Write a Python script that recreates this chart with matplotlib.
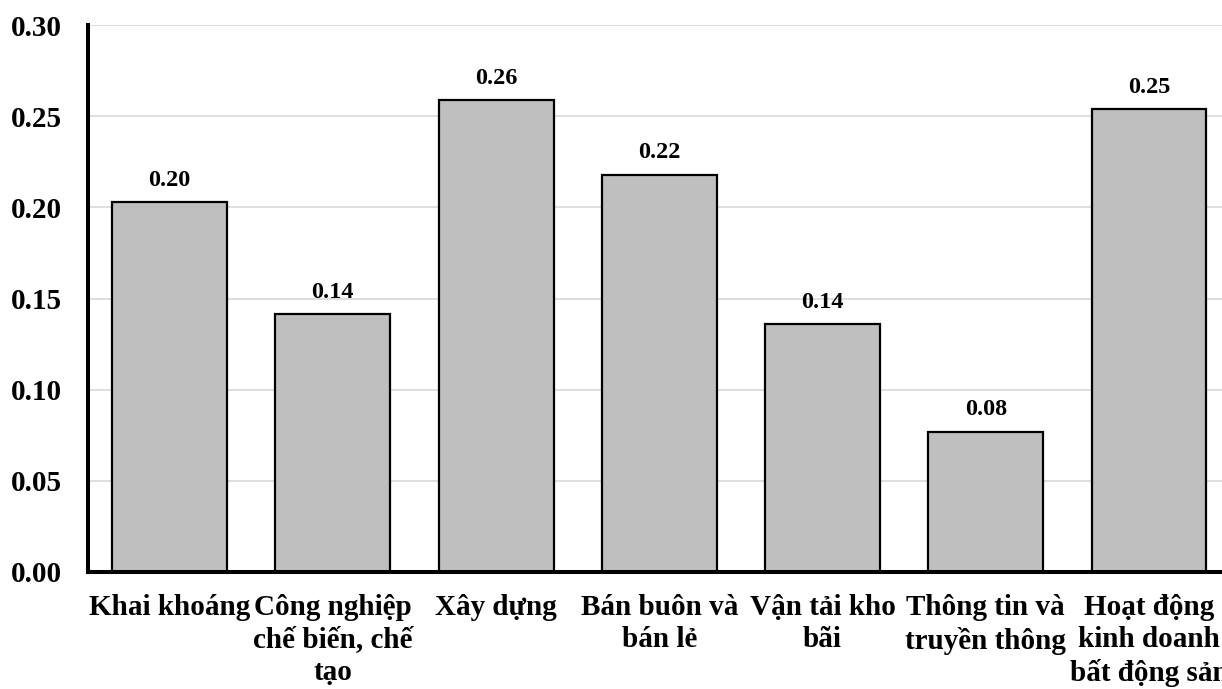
import matplotlib
matplotlib.use("Agg")
import matplotlib.pyplot as plt
from matplotlib.ticker import FormatStrFormatter

categories = ["Khai khoáng", "Công nghiệp\nchế biến, chế\ntạo", "Xây dựng",
              "Bán buôn và\nbán lẻ", "Vận tải kho\nbãi", "Thông tin và\ntruyền thông",
              "Hoạt động\nkinh doanh\nbất động sản"]
values = [0.203, 0.1415, 0.259, 0.218, 0.136, 0.077, 0.254]
yticks = [0.00, 0.05, 0.10, 0.15, 0.20, 0.25, 0.30]

plt.rcParams['font.family'] = ['Liberation Serif', 'DejaVu Serif']
plt.rcParams['font.weight'] = 'bold'

fig = plt.figure(figsize=(12.22, 6.89), dpi=100)
ax = fig.add_axes([88/1222, 117/689, (1230.6-88)/1222, 547/689])

x = list(range(len(categories)))
bars = ax.bar(x, values, width=0.704, color='#BFBFBF', edgecolor='black', linewidth=1.6, zorder=3)
for xi, v in zip(x, values):
    ax.annotate(f"{v:.2f}", (xi, v), xytext=(0, 8), textcoords='offset points',
                ha='center', va='bottom', fontsize=17.5, fontweight='bold')

ax.set_xlim(-0.5, 6.5)
ax.set_ylim(0, 0.30)
ax.set_yticks(yticks)
ax.yaxis.set_major_formatter(FormatStrFormatter('%.2f'))
ax.set_xticks(x)
ax.set_xticklabels(categories, fontsize=21, fontweight='bold', linespacing=1.25)
ax.tick_params(axis='y', length=0, pad=19, labelsize=21)
ax.tick_params(axis='x', length=0, pad=16)
ax.grid(axis='y', color='#D9D9D9', linewidth=1.2, zorder=0)
ax.set_axisbelow(True)
for s in ['top', 'right']:
    ax.spines[s].set_visible(False)
ax.spines['left'].set_linewidth(2.9)
ax.spines['bottom'].set_linewidth(2.9)
ax.spines['left'].set_zorder(4)
ax.spines['bottom'].set_zorder(4)

fig.savefig("out.png", dpi=100)
